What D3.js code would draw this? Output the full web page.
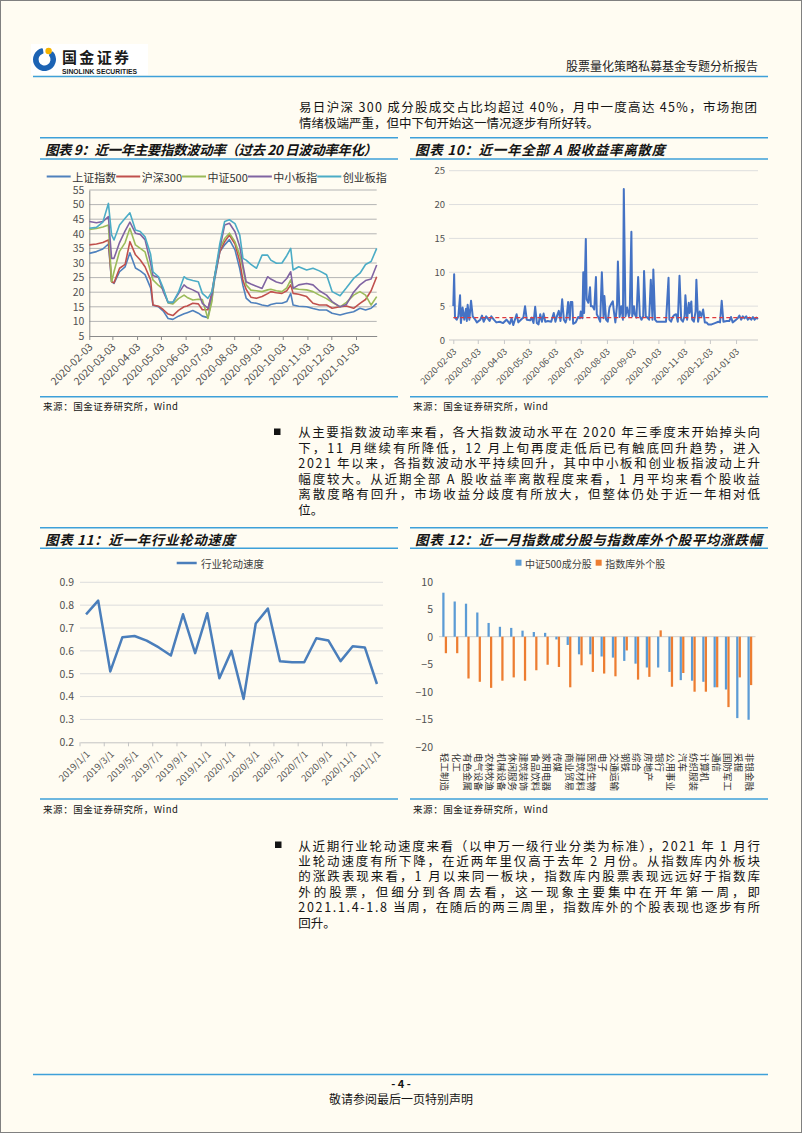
<!DOCTYPE html>
<html>
<head>
<meta charset="utf-8">
<script src="https://cdn.jsdelivr.net/npm/d3@7"></script>
<style>
  body { margin: 0; background: #fff; }
  svg { display: block; }
</style>
</head>
<body>
<svg></svg>
<script>
// ---- data ----
const volTicks = ["2020-02-03","2020-03-03","2020-04-03","2020-05-03","2020-06-03","2020-07-03",
  "2020-08-03","2020-09-03","2020-10-03","2020-11-03","2020-12-03","2021-01-03"];

const volNames = ["上证指数", "沪深300", "中证500", "中小板指", "创业板指"];
const volDates = ["2020-02-03","2020-02-12","2020-02-20","2020-02-27","2020-03-02","2020-03-05","2020-03-12",
  "2020-03-19","2020-03-25","2020-04-01","2020-04-07","2020-04-13","2020-04-20","2020-04-23","2020-04-30",
  "2020-05-06","2020-05-12","2020-05-18","2020-05-25","2020-06-01","2020-06-05","2020-06-12","2020-06-19",
  "2020-06-24","2020-07-01","2020-07-06","2020-07-09","2020-07-16","2020-07-22","2020-07-28","2020-08-04",
  "2020-08-10","2020-08-14","2020-08-18","2020-08-24","2020-08-31","2020-09-07","2020-09-14","2020-09-18",
  "2020-09-25","2020-10-02","2020-10-08","2020-10-13","2020-10-16","2020-10-23","2020-11-02","2020-11-10",
  "2020-11-18","2020-11-27","2020-12-04","2020-12-14","2020-12-22","2020-12-31","2021-01-08","2021-01-15",
  "2021-01-22","2021-01-29"];
const volSH = [33.3,33.9,34.8,36.5,23.6,23.0,27.0,28.7,33.5,28.3,27.3,26.0,21.5,15.5,15.0,13.5,11.0,10.7,11.8,12.6,
  13.0,13.7,12.8,11.8,11.3,17.9,23.6,33.9,36.2,38.0,34.5,28.0,22.3,18.0,16.5,16.2,15.6,15.3,15.8,16.2,
  16.2,16.8,19.6,15.6,15.2,15.0,14.4,13.9,13.9,12.8,12.2,12.8,13.3,14.5,13.9,14.5,16.2];
const volHS300 = [36.2,36.5,37.0,37.9,23.6,23.2,28.2,29.5,37.3,32.8,31.0,28.7,24.2,15.6,15.2,14.0,12.5,12.0,13.8,15.0,
  15.3,16.2,16.0,14.0,14.0,20.0,25.0,33.9,37.3,39.6,36.5,30.5,24.0,21.0,18.3,17.9,18.5,19.5,20.2,19.8,
  19.6,20.5,22.5,19.6,19.3,18.5,16.2,15.6,15.6,14.5,15.0,15.3,14.5,16.2,17.5,20.5,25.3];
const volZZ500 = [41.5,41.8,42.3,43.0,23.6,27.0,34.0,37.0,41.9,36.2,35.0,33.8,27.0,24.2,22.3,21.0,16.3,16.0,17.8,19.0,
  18.2,17.3,17.6,17.5,11.0,16.8,24.7,35.0,38.4,40.2,37.3,32.7,28.2,22.5,20.7,20.5,20.2,20.8,21.0,20.5,
  20.2,21.5,24.2,21.3,21.0,20.8,20.2,19.0,17.8,16.5,15.0,16.5,19.0,20.2,19.0,15.6,18.5];
const volZXB = [44.2,43.8,44.2,45.9,31.6,31.6,37.0,41.0,44.0,40.2,39.8,38.0,30.0,25.7,25.0,20.2,16.5,16.5,19.5,22.5,
  21.6,20.8,19.8,16.2,14.5,19.0,24.7,35.0,43.0,43.6,40.7,35.6,29.3,23.6,22.8,22.0,21.3,25.3,24.5,23.5,
  23.0,24.7,27.0,21.3,22.5,23.0,22.5,20.5,19.0,16.8,15.0,15.8,20.0,22.5,24.0,24.5,29.3];
const volCYB = [41.9,42.2,44.0,50.4,39.6,37.9,43.0,45.3,47.2,41.3,40.8,39.0,33.0,27.0,25.3,21.3,16.5,16.5,20.0,25.3,
  24.5,24.0,23.6,19.6,17.9,20.2,24.7,36.7,44.2,44.8,43.5,39.6,31.6,31.0,29.5,28.2,32.7,32.7,31.0,29.9,
  30.0,32.5,35.0,27.6,28.7,27.6,28.2,27.3,26.0,20.2,18.8,21.5,24.7,26.5,29.5,30.5,35.0];

// [days after 2020-02-03, dispersion]
const dispStart = "2020-02-03";
const dispersion = [[0,5.0],[1,9.7],[2,3.3],[4,3.0],[6,3.5],[8,6.6],[9,2.5],[11,4.8],[13,3.0],[15,4.6],[16,2.8],
  [17,5.2],[19,3.0],[21,5.8],[23,3.5],[26,3.0],[28,2.6],[32,3.0],[34,3.6],[36,2.7],[39,3.5],[43,2.8],[45,3.5],
  [48,3.0],[51,2.6],[55,2.7],[59,2.5],[63,3.0],[67,2.4],[69,3.2],[71,2.2],[73,3.0],[75,3.8],[77,2.6],[81,3.1],
  [83,3.3],[85,5.0],[87,3.0],[91,2.9],[93,3.3],[95,2.5],[97,4.9],[99,2.5],[101,2.3],[103,3.8],[105,2.7],[107,3.9],
  [109,2.7],[112,2.8],[116,2.7],[119,4.0],[121,2.7],[123,3.6],[125,4.3],[127,2.8],[129,6.0],[131,3.0],[133,2.6],
  [134,3.0],[136,5.6],[138,3.0],[139,5.6],[141,5.6],[142,2.4],[145,2.6],[148,3.4],[150,3.2],[151,4.2],[153,3.2],
  [154,10.0],[155,4.0],[157,14.9],[158,6.0],[160,5.5],[162,7.8],[163,5.0],[165,5.0],[167,4.5],[169,9.3],[170,3.8],
  [172,3.3],[174,2.7],[176,10.0],[178,3.2],[179,6.5],[181,3.0],[183,2.7],[185,4.8],[187,5.3],[189,5.7],[190,4.5],
  [192,2.6],[194,5.2],[195,11.6],[197,3.4],[199,5.0],[201,3.0],[202,22.3],[204,3.5],[206,4.8],[208,3.5],[209,4.0],
  [211,16.0],[212,3.5],[214,5.0],[215,3.8],[217,3.3],[219,9.3],[221,3.5],[223,3.0],[225,3.5],[226,10.2],[228,3.5],
  [230,3.3],[232,3.0],[234,8.9],[236,3.0],[237,10.4],[239,3.0],[241,2.7],[245,2.7],[249,2.7],[252,2.7],[255,9.2],
  [256,3.0],[258,2.7],[260,3.4],[262,3.7],[264,3.8],[266,2.7],[268,9.5],[270,3.0],[272,2.7],[274,3.5],[275,6.6],
  [277,3.0],[279,5.5],[280,4.0],[282,5.7],[283,3.0],[285,2.7],[287,4.2],[288,8.9],[290,2.7],[292,4.2],[294,3.5],
  [296,4.5],[298,2.6],[300,2.6],[302,2.3],[306,2.3],[310,2.5],[314,2.7],[316,2.6],[318,5.8],[320,2.7],[324,2.8],
  [327,2.8],[329,3.4],[331,2.6],[335,3.0],[337,3.2],[339,3.6],[341,3.0],[343,3.5],[345,3.2],[347,3.5],[349,3.0],
  [351,3.3],[353,3.0],[355,3.4],[357,3.0],[359,3.3],[361,3.1]];
const dispMean = 3.3;

const rotMonths = ["2019/1/1","2019/2/1","2019/3/1","2019/4/1","2019/5/1","2019/6/1","2019/7/1","2019/8/1",
  "2019/9/1","2019/10/1","2019/11/1","2019/12/1","2020/1/1","2020/2/1","2020/3/1","2020/4/1","2020/5/1",
  "2020/6/1","2020/7/1","2020/8/1","2020/9/1","2020/10/1","2020/11/1","2020/12/1","2021/1/1"];
const rotValues = [0.76,0.82,0.51,0.66,0.665,0.645,0.615,0.58,0.76,0.59,0.765,0.48,0.60,0.39,0.72,0.785,
  0.555,0.55,0.55,0.655,0.645,0.555,0.62,0.615,0.455];

const indNames = ["轻工制造","化工","有色金属","电气设备","农林牧渔","机械设备","休闲服务","建筑装饰","食品饮料",
  "家用电器","传媒","商业贸易","建筑材料","医药生物","电子","交通运输","钢铁","综合","房地产","银行","公用事业",
  "汽车","纺织服装","计算机","通信","国防军工","采掘","非银金融"];
const inIndex = [8.0,6.4,6.0,4.4,2.5,1.8,1.6,1.1,0.85,0.7,-0.5,-1.5,-3.2,-3.2,-3.6,-3.8,-4.4,-4.9,-5.6,-5.6,
  -6.4,-7.9,-8.0,-8.2,-9.2,-9.6,-14.8,-15.1];
const outIndex = [-3.0,-3.0,-7.6,-8.2,-9.3,-8.0,-7.4,-8.0,-6.1,-5.1,-5.5,-9.2,-5.2,-6.4,-6.7,-7.2,-2.5,-7.8,
  -7.3,1.15,-9.1,-6.6,-10.0,-10.0,-9.2,-12.8,-7.4,-8.8];
const barNames = ["中证500成分股", "指数库外个股"];

const topText = ["易日沪深 300 成分股成交占比均超过 40%，月中一度高达 45%，市场抱团",
  "情绪极端严重，但中下旬开始这一情况逐步有所好转。"];
const text1 = ["从主要指数波动率来看，各大指数波动水平在 2020 年三季度末开始掉头向",
  "下，11 月继续有所降低，12 月上旬再度走低后已有触底回升趋势，进入",
  "2021 年以来，各指数波动水平持续回升，其中中小板和创业板指波动上升",
  "幅度较大。从近期全部 A 股收益率离散程度来看，1 月平均来看个股收益",
  "离散度略有回升，市场收益分歧度有所放大，但整体仍处于近一年相对低",
  "位。"];
const text2 = ["从近期行业轮动速度来看（以申万一级行业分类为标准），2021 年 1 月行",
  "业轮动速度有所下降，在近两年里仅高于去年 2 月份。从指数库内外板块",
  "的涨跌表现来看，1 月以来同一板块，指数库内股票表现远远好于指数库",
  "外的股票，但细分到各周去看，这一现象主要集中在开年第一周，即",
  "2021.1.4-1.8 当周，在随后的两三周里，指数库外的个股表现也逐步有所",
  "回升。"];

// ---- page ----
const FONT = "'Noto Sans CJK SC', sans-serif";
const RULE = "#3ea0d9";
const INK = "#141414";
const AXT = "#505050";
const parseDate = d3.timeParse("%Y-%m-%d");

let svg = d3.select("svg")
    .attr("width", 802)
    .attr("height", 1133)
    .style("font-family", FONT);

svg.append("rect")
    .attr("x", 0.5).attr("y", 0.5)
    .attr("width", 801).attr("height", 1132)
    .attr("fill", "#fffcf2")
    .attr("stroke", "#808080");

function hline(x1, x2, y, color, w) {
    svg.append("line")
        .attr("x1", x1).attr("x2", x2)
        .attr("y1", y).attr("y2", y)
        .attr("stroke", color)
        .attr("stroke-width", w);
}

function drawHeader() {
    let g = svg.append("g");
    g.append("rect")
        .attr("x", 31).attr("y", 44)
        .attr("width", 117).attr("height", 31)
        .attr("fill", "#ffffff");
    let arc = d3.arc()
        .innerRadius(6)
        .outerRadius(11.5)
        .startAngle(0.75)
        .endAngle(2 * Math.PI - 0.15)
        .cornerRadius(1);
    g.append("path")
        .attr("d", arc())
        .attr("transform", "translate(44.5,59.5)")
        .attr("fill", "#1c63b4");
    g.append("circle")
        .attr("cx", 48.6).attr("cy", 51)
        .attr("r", 3.2)
        .attr("fill", "#f5b300");
    g.append("text")
        .attr("x", 62).attr("y", 62.5)
        .attr("font-size", 15)
        .attr("font-weight", 700)
        .attr("fill", "#1a1a1a")
        .attr("textLength", 67)
        .attr("lengthAdjust", "spacing")
        .text("国金证券");
    g.append("text")
        .attr("x", 62).attr("y", 73.5)
        .attr("font-size", 6.8)
        .attr("font-weight", 700)
        .attr("font-family", "'Liberation Sans', Arial, sans-serif")
        .attr("fill", "#1a1a1a")
        .text("SINOLINK SECURITIES");
    g.append("text")
        .attr("x", 758).attr("y", 65)
        .attr("dominant-baseline", "central")
        .attr("text-anchor", "end")
        .attr("font-size", 12)
        .attr("fill", "#222")
        .text("股票量化策略私募基金专题分析报告");
    hline(33, 768, 76.5, RULE, 1.5);
}

function drawFooter() {
    hline(33, 768, 1074.5, RULE, 1.5);
    svg.append("text")
        .attr("x", 401).attr("y", 1083)
        .attr("dominant-baseline", "central")
        .attr("text-anchor", "middle")
        .attr("font-size", 11)
        .attr("font-weight", 700)
        .attr("fill", INK)
        .text("- 4 -");
    svg.append("text")
        .attr("x", 401).attr("y", 1098)
        .attr("dominant-baseline", "central")
        .attr("text-anchor", "middle")
        .attr("font-size", 12)
        .attr("fill", INK)
        .text("敬请参阅最后一页特别声明");
}

function paragraph(lines, x, y0, lh, width) {
    lines.forEach((t, i) => {
        let el = svg.append("text")
            .attr("x", x).attr("y", y0 + i * lh)
            .attr("dominant-baseline", "central")
            .attr("font-size", 12.5)
            .attr("fill", INK)
            .text(t);
        if (i < lines.length - 1) {
            el.attr("textLength", width).attr("lengthAdjust", "spacing");
        }
    });
}

function bullet(x, y) {
    svg.append("rect")
        .attr("x", x).attr("y", y)
        .attr("width", 6.5).attr("height", 6.5)
        .attr("fill", INK);
}

function frame(x1, x2, yTop, yTitle, yBottom, title, titleLen) {
    hline(x1, x2, yTop, RULE, 1.5);
    hline(x1, x2, yTitle, RULE, 1.5);
    hline(x1, x2, yBottom, RULE, 1.5);
    svg.append("text")
        .attr("x", x1 + 5).attr("y", (yTop + yTitle) / 2 + 0.5)
        .attr("dominant-baseline", "central")
        .attr("font-size", 13.5)
        .attr("font-weight", 700)
        .attr("font-style", "italic")
        .attr("fill", INK)
        .attr("textLength", titleLen)
        .attr("lengthAdjust", "spacing")
        .text(title);
    svg.append("text")
        .attr("x", x1 + 3).attr("y", yBottom + 9.5)
        .attr("dominant-baseline", "central")
        .attr("font-size", 9.5)
        .attr("fill", INK)
        .attr("textLength", 135)
        .attr("lengthAdjust", "spacing")
        .text("来源：国金证券研究所，Wind");
}

function styleAxisText(axisG, size) {
    axisG.selectAll("text")
        .attr("font-size", size)
        .attr("font-family", FONT)
        .attr("fill", AXT);
}

// ---- chart 9 ----
function drawVolatility() {
    const L = 89.3, R = 376.7, T = 190, B = 336;
    let g = svg.append("g");
    let x = d3.scaleTime()
        .domain([parseDate("2020-02-03"), parseDate("2021-01-29")])
        .range([L, R]);
    let y = d3.scaleLinear().domain([5, 55]).range([B, T]);

    g.append("g").selectAll("line")
        .data(y.ticks(10).filter(v => v > 5))
        .join("line")
        .attr("x1", L).attr("x2", R)
        .attr("y1", d => y(d)).attr("y2", d => y(d))
        .attr("stroke", "#b4b4b4");

    let ya = g.append("g")
        .attr("transform", `translate(${L},0)`)
        .call(d3.axisLeft(y).ticks(10).tickSize(0).tickPadding(5));
    ya.select(".domain").attr("stroke", "#8a8a8a");
    styleAxisText(ya, 10.5);

    let xa = g.append("g")
        .attr("transform", `translate(0,${B})`)
        .call(d3.axisBottom(x)
            .tickValues(volTicks.map(parseDate))
            .tickFormat(d3.timeFormat("%Y-%m-%d"))
            .tickSizeInner(4)
            .tickSizeOuter(0));
    xa.select(".domain").attr("stroke", "#8a8a8a");
    xa.selectAll(".tick line").attr("stroke", "#8a8a8a");
    styleAxisText(xa, 10.5);
    xa.selectAll("text")
        .attr("y", 0)
        .attr("dy", "0.35em")
        .attr("transform", "translate(1,9) rotate(-45)")
        .attr("text-anchor", "end");

    const colors = ["#4f81bd", "#c0504d", "#9bbb59", "#8064a2", "#4bacc6"];
    const values = [volSH, volHS300, volZZ500, volZXB, volCYB];
    const dates = volDates.map(parseDate);
    let line = d3.line()
        .x((d, i) => x(dates[i]))
        .y(d => y(d));

    values.forEach((v, k) => {
        g.append("path")
            .attr("d", line(v))
            .attr("fill", "none")
            .attr("stroke", colors[k])
            .attr("stroke-width", 1.6)
            .attr("stroke-linejoin", "round");
    });

    let lx = 46.7;
    volNames.forEach((name, k) => {
        g.append("line")
            .attr("x1", lx).attr("x2", lx + 24)
            .attr("y1", 176.5).attr("y2", 176.5)
            .attr("stroke", colors[k])
            .attr("stroke-width", 2);
        let t = g.append("text")
            .attr("x", lx + 25.5).attr("y", 176.5)
            .attr("dominant-baseline", "central")
            .attr("font-size", 11)
            .attr("fill", "#333")
            .text(name);
        lx += 25.5 + t.node().getComputedTextLength();
    });
}

// ---- chart 10 ----
function drawDispersion() {
    const L = 453.3, R = 758, T = 170.7, B = 340;
    let g = svg.append("g");
    const start = parseDate(dispStart);
    let x = d3.scaleTime()
        .domain([start, d3.timeDay.offset(start, 361)])
        .range([L, R]);
    let y = d3.scaleLinear().domain([0, 25]).range([B, T]);

    g.append("g").selectAll("line")
        .data(y.ticks(5))
        .join("line")
        .attr("x1", 449).attr("x2", R)
        .attr("y1", d => y(d)).attr("y2", d => y(d))
        .attr("stroke", d => d === 0 ? "#c8c8c8" : "#dedede");

    let ya = g.append("g")
        .attr("transform", "translate(449,0)")
        .call(d3.axisLeft(y).ticks(5).tickSize(0).tickPadding(4));
    ya.select(".domain").remove();
    styleAxisText(ya, 9.5);

    let xa = g.append("g")
        .attr("transform", `translate(0,${B})`)
        .call(d3.axisBottom(x)
            .tickValues(volTicks.map(parseDate))
            .tickFormat(d3.timeFormat("%Y-%m-%d"))
            .tickSizeInner(4)
            .tickSizeOuter(0));
    xa.select(".domain").remove();
    xa.selectAll(".tick line").attr("stroke", "#c8c8c8");
    styleAxisText(xa, 9);
    xa.selectAll("text")
        .attr("y", 0)
        .attr("dy", "0.35em")
        .attr("transform", "translate(1,10) rotate(-45)")
        .attr("text-anchor", "end");

    let line = d3.line()
        .x(d => x(d3.timeDay.offset(start, d[0])))
        .y(d => y(d[1]));
    g.append("path")
        .attr("d", line(dispersion))
        .attr("fill", "none")
        .attr("stroke", "#4472c4")
        .attr("stroke-width", 2)
        .attr("stroke-linejoin", "round");

    g.append("line")
        .attr("x1", L).attr("x2", R)
        .attr("y1", y(dispMean)).attr("y2", y(dispMean))
        .attr("stroke", "#e0393e")
        .attr("stroke-width", 1.3)
        .attr("stroke-dasharray", "4,3");
}

// ---- chart 11 ----
function drawRotation() {
    const L = 80, R = 383, T = 582.3, B = 742.3;
    let g = svg.append("g");
    let x = d3.scaleBand().domain(rotMonths).range([L, R]);
    let y = d3.scaleLinear().domain([0.2, 0.9]).range([B, T]);
    const half = x.bandwidth() / 2;

    g.append("g").selectAll("line")
        .data(y.ticks(7).filter(v => v > 0.21))
        .join("line")
        .attr("x1", L).attr("x2", R)
        .attr("y1", d => y(d)).attr("y2", d => y(d))
        .attr("stroke", "#dcdcdc");

    let ya = g.append("g")
        .attr("transform", `translate(${L - 2},0)`)
        .call(d3.axisLeft(y).ticks(7).tickFormat(d3.format(".1f")).tickSize(0).tickPadding(4));
    ya.select(".domain").remove();
    styleAxisText(ya, 10.5);

    const shown = rotMonths.filter((m, i) => i % 2 === 0);
    let xa = g.append("g")
        .attr("transform", `translate(0,${B})`)
        .call(d3.axisBottom(x).tickValues(shown).tickSize(0).tickSizeOuter(0));
    xa.select(".domain").attr("stroke", "#c4c4c4");
    styleAxisText(xa, 9.5);
    xa.selectAll("text")
        .attr("y", 0)
        .attr("dy", "0.35em")
        .attr("transform", "translate(2,10) rotate(-45)")
        .attr("text-anchor", "end");
    g.append("g").selectAll("line")
        .data(shown)
        .join("line")
        .attr("x1", d => x(d)).attr("x2", d => x(d))
        .attr("y1", B).attr("y2", B + 4)
        .attr("stroke", "#c4c4c4");

    let line = d3.line()
        .x((d, i) => x(rotMonths[i]) + half)
        .y(d => y(d));
    g.append("path")
        .attr("d", line(rotValues))
        .attr("fill", "none")
        .attr("stroke", "#4a7ebb")
        .attr("stroke-width", 2.5)
        .attr("stroke-linejoin", "round");

    g.append("line")
        .attr("x1", 176.7).attr("x2", 196.7)
        .attr("y1", 563).attr("y2", 563)
        .attr("stroke", "#4a7ebb")
        .attr("stroke-width", 2.5);
    g.append("text")
        .attr("x", 201).attr("y", 563)
        .attr("dominant-baseline", "central")
        .attr("font-size", 10.5)
        .attr("fill", "#404040")
        .text("行业轮动速度");
}

// ---- chart 12 ----
function drawBars() {
    const L = 439, R = 755.5, T = 581.7, B = 746.7;
    let g = svg.append("g");
    let x0 = d3.scaleBand().domain(indNames).range([L, R]).paddingInner(0.58).paddingOuter(0.29);
    let x1 = d3.scaleBand().domain([0, 1]).range([0, x0.bandwidth()]).paddingInner(0.1);
    let y = d3.scaleLinear().domain([-20, 10]).range([B, T]);
    const colors = ["#5b9bd5", "#ed7d31"];

    let ya = g.append("g")
        .attr("transform", `translate(${L - 2},0)`)
        .call(d3.axisLeft(y).ticks(6).tickSize(0).tickPadding(4));
    ya.select(".domain").remove();
    styleAxisText(ya, 10.5);

    g.append("line")
        .attr("x1", L).attr("x2", R)
        .attr("y1", y(0)).attr("y2", y(0))
        .attr("stroke", "#cfcfcf");

    [inIndex, outIndex].forEach((vals, k) => {
        g.append("g").selectAll("rect")
            .data(vals)
            .join("rect")
            .attr("x", (d, i) => x0(indNames[i]) + x1(k))
            .attr("y", d => y(Math.max(0, d)))
            .attr("width", x1.bandwidth())
            .attr("height", d => Math.abs(y(d) - y(0)))
            .attr("fill", colors[k]);
    });

    // category names run downwards, one column per industry
    g.append("g").selectAll("text")
        .data(indNames)
        .join("text")
        .attr("transform", d => `translate(${x0(d) + x0.bandwidth() / 2},753) rotate(90)`)
        .attr("dy", "0.36em")
        .attr("font-size", 9.5)
        .attr("fill", "#333")
        .text(d => d);

    let lx = 515.5;
    barNames.forEach((name, k) => {
        g.append("rect")
            .attr("x", lx).attr("y", 559.7)
            .attr("width", 6).attr("height", 6)
            .attr("fill", colors[k]);
        let t = g.append("text")
            .attr("x", lx + 9.5).attr("y", 563)
            .attr("dominant-baseline", "central")
            .attr("font-size", 10)
            .attr("fill", "#404040")
            .text(name);
        lx += 9.5 + t.node().getComputedTextLength() + 4;
    });
}

drawHeader();
paragraph(topText, 299, 106.7, 16, 458);

frame(40, 398, 137.7, 159, 396.7, "图表 9：近一年主要指数波动率（过去 20 日波动率年化）", 332);
frame(410, 768, 137.7, 159, 396.7, "图表 10：近一年全部 A 股收益率离散度", 250);
drawVolatility();
drawDispersion();

bullet(274, 428.5);
paragraph(text1, 298.3, 431.7, 15.5, 461.7);

frame(40, 398, 527.7, 548.3, 799, "图表 11：近一年行业轮动速度", 190);
frame(410, 768, 527.7, 548.3, 799, "图表 12：近一月指数成分股与指数库外个股平均涨跌幅", 347);
drawRotation();
drawBars();

bullet(275, 841.5);
paragraph(text2, 298.3, 845, 15.4, 461.7);

drawFooter();
</script>
</body>
</html>
